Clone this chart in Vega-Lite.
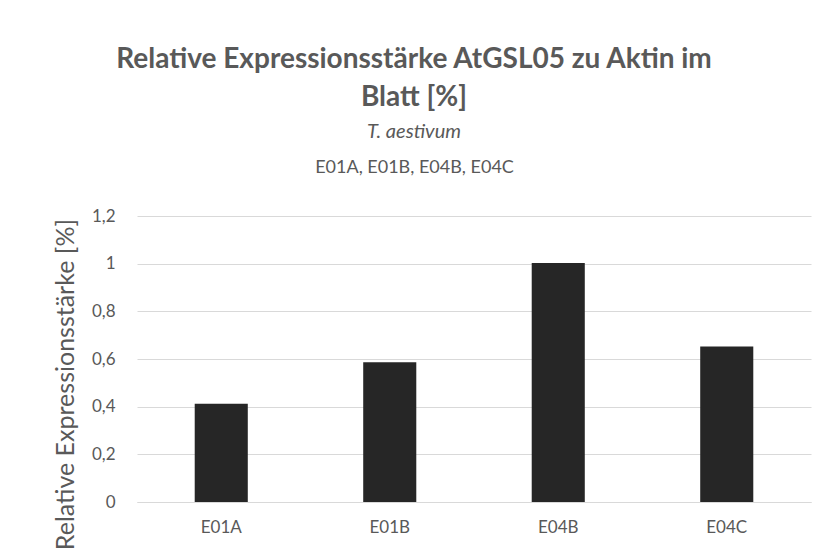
{
  "$schema": "https://vega.github.io/schema/vega-lite/v6.json",
  "width": 674,
  "height": 286,
  "autosize": {"type": "none"},
  "padding": {"left": 137, "top": 216, "right": 16, "bottom": 54},
  "background": "white",
  "config": {"view": {"stroke": null}},
  "title": {
    "text": ["Relative Expressionsstärke AtGSL05 zu Aktin im", "Blatt [%]"],
    "subtitle": "T. aestivum",
    "font": "Lato",
    "fontSize": 28,
    "fontWeight": "bold",
    "color": "#595959",
    "lineHeight": 38,
    "subtitleFont": "Lato",
    "subtitleFontSize": 20,
    "subtitleFontStyle": "italic",
    "subtitleColor": "#595959",
    "subtitlePadding": 10,
    "anchor": "middle",
    "dx": -60,
    "offset": 16
  },
  "data": {
    "values": [
      {"linie": "E01A", "wert": 0.412},
      {"linie": "E01B", "wert": 0.586},
      {"linie": "E04B", "wert": 1.003},
      {"linie": "E04C", "wert": 0.652}
    ]
  },
  "resolve": {"axis": {"x": "independent"}},
  "layer": [
    {
      "mark": {"type": "bar", "color": "#262626"},
      "encoding": {
        "x": {
          "field": "linie",
          "type": "nominal",
          "sort": null,
          "scale": {"paddingInner": 0.685, "paddingOuter": 0.3425},
          "axis": {
            "orient": "bottom",
            "title": null,
            "labelAngle": 0,
            "labelFont": "Lato",
            "labelFontSize": 17,
            "labelColor": "#595959",
            "labelPadding": 17,
            "ticks": false,
            "domain": true,
            "domainColor": "#d9d9d9",
            "grid": false
          }
        },
        "y": {
          "field": "wert",
          "type": "quantitative",
          "scale": {"domain": [0, 1.2]},
          "axis": {
            "values": [0, 0.2, 0.4, 0.6, 0.8, 1, 1.2],
            "labelExpr": "replace(format(datum.value, '~g'), '.', ',')",
            "labelFont": "Lato",
            "labelFontSize": 17,
            "labelColor": "#595959",
            "labelPadding": 22,
            "ticks": false,
            "domain": false,
            "grid": true,
            "gridColor": "#d9d9d9",
            "title": "Relative Expressionsstärke [%]",
            "titleFont": "Lato",
            "titleFontSize": 25,
            "titleFontWeight": "normal",
            "titleColor": "#595959",
            "titleAngle": -90,
            "titleBaseline": "middle",
            "titleX": -72,
            "titleY": 168
          }
        }
      }
    },
    {
      "mark": {"type": "rule", "strokeOpacity": 0},
      "encoding": {
        "x": {
          "field": "linie",
          "type": "nominal",
          "sort": null,
          "axis": {
            "orient": "top",
            "labels": false,
            "ticks": false,
            "domain": false,
            "grid": false,
            "title": "E01A, E01B, E04B, E04C",
            "titleFont": "Lato",
            "titleFontSize": 18,
            "titleFontWeight": "normal",
            "titleColor": "#595959",
            "titlePadding": 40,
            "titleX": 277
          }
        }
      }
    }
  ]
}
